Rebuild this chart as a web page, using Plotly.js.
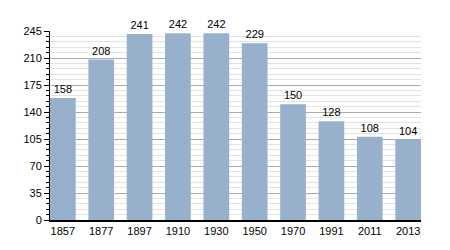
<!DOCTYPE html>
<html><head><meta charset="utf-8">
<script src="https://cdn.plot.ly/plotly-3.0.1.min.js"></script>
<style>body{margin:0;background:#fff}#c{width:450px;height:250px}</style>
</head><body><div id="c"></div>
<script>
const years = ["1857","1877","1897","1910","1930","1950","1970","1991","2011","2013"];
const population = [158,208,241,242,242,229,150,128,108,104];
const yTicks = [0,35,70,105,140,175,210,245];

const trace = {
  type: "bar",
  x: years,
  y: population,
  text: population.map(String),
  textposition: "outside",
  cliponaxis: false,
  textfont: {family: "Liberation Sans, Arial, sans-serif", size: 11, color: "#000"},
  marker: {color: "#97b1cc", line: {width: 0}},
  hoverinfo: "none"
};
const layout = {
  width: 450, height: 250,
  margin: {l: 50, r: 29, t: 31, b: 30},
  paper_bgcolor: "#fff", plot_bgcolor: "#fff",
  showlegend: false,
  bargap: 0.33,
  font: {family: "Liberation Sans, Arial, sans-serif", size: 11, color: "#000"},
  xaxis: {
    type: "category",
    range: [-0.335, 9.335],
    showline: true, linecolor: "#000", linewidth: 1.5,
    ticks: "", showgrid: false, zeroline: false,
    tickfont: {size: 11, color: "#000"}
  },
  yaxis: {
    range: [0, 245],
    tickvals: yTicks, ticktext: yTicks.map(String),
    showline: true, linecolor: "#000", linewidth: 1,
    ticks: "outside", ticklen: 5, tickcolor: "#000",
    showgrid: true, gridcolor: "#aaaaaa", gridwidth: 1,
    zeroline: false,
    tickfont: {size: 11, color: "#000"},
    minor: {dtick: 7, tick0: 0, ticks: "outside", ticklen: 3, tickcolor: "#000", showgrid: true, gridcolor: "#e4e4e4", gridwidth: 1}
  }
};
Plotly.newPlot("c", [trace], layout, {staticPlot: true, displayModeBar: false});
</script></body></html>
